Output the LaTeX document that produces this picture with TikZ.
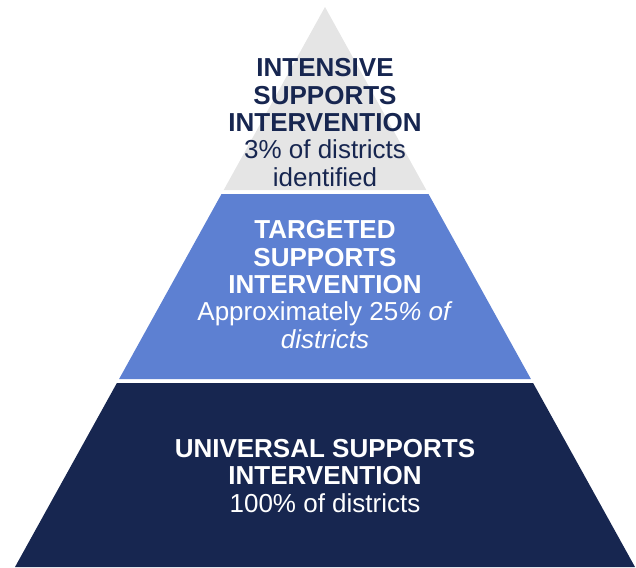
\documentclass[tikz,border=0pt]{standalone}
\usepackage{fontspec}
\setmainfont{Liberation Sans}
\usepackage{tikz}
\usetikzlibrary{calc,positioning}

\definecolor{tiergray}{HTML}{E5E5E5}
\definecolor{tierblue}{HTML}{5D80D2}
\definecolor{tiernavy}{HTML}{172650}

\tikzset{
	tiertext/.style={align=center,inner sep=0pt,anchor=base,font=\fontsize{26}{27.3}\selectfont},
}

\begin{document}
\begin{tikzpicture}[x=1pt,y=-1pt]
	\useasboundingbox (0,0) rectangle (636,567);
	
	\coordinate (Apex) at (325,7);
	\coordinate (G1) at (223.7,190);
	\coordinate (G2) at (426.3,190);
	\coordinate (B1) at (221.5,194);
	\coordinate (B2) at (428.5,194);
	\coordinate (B3) at (530.9,379);
	\coordinate (B4) at (119.1,379);
	\coordinate (N1) at (116.9,383);
	\coordinate (N2) at (533.1,383);
	\coordinate (N3) at (635,567);
	\coordinate (N4) at (15,567);
	
	\fill[tiergray] (Apex)--(G2)--(G1)--cycle;
	\fill[tierblue] (B1)--(B2)--(B3)--(B4)--cycle;
	\fill[tiernavy] (N1)--(N2)--(N3)--(N4)--cycle;
	
	% baselines of the last line in each tier
	\coordinate (Ti) at (325,186);
	\coordinate (Tt) at (325,348);
	\coordinate (Tu) at (325,512);
	
	\node[tiertext,text=tiernavy] (intensive) at (Ti) {\textbf{INTENSIVE}\\\textbf{SUPPORTS}\\\textbf{INTERVENTION}\\3\% of districts\\identified};
	\node[tiertext,text=white] (targeted) at (Tt) {\textbf{TARGETED}\\\textbf{SUPPORTS}\\\textbf{INTERVENTION}\\Approximately 25\textit{\% of}\\\textit{districts}};
	\node[tiertext,text=white] (universal) at (Tu) {\textbf{UNIVERSAL SUPPORTS}\\\textbf{INTERVENTION}\\100\% of districts};
\end{tikzpicture}
\end{document}
